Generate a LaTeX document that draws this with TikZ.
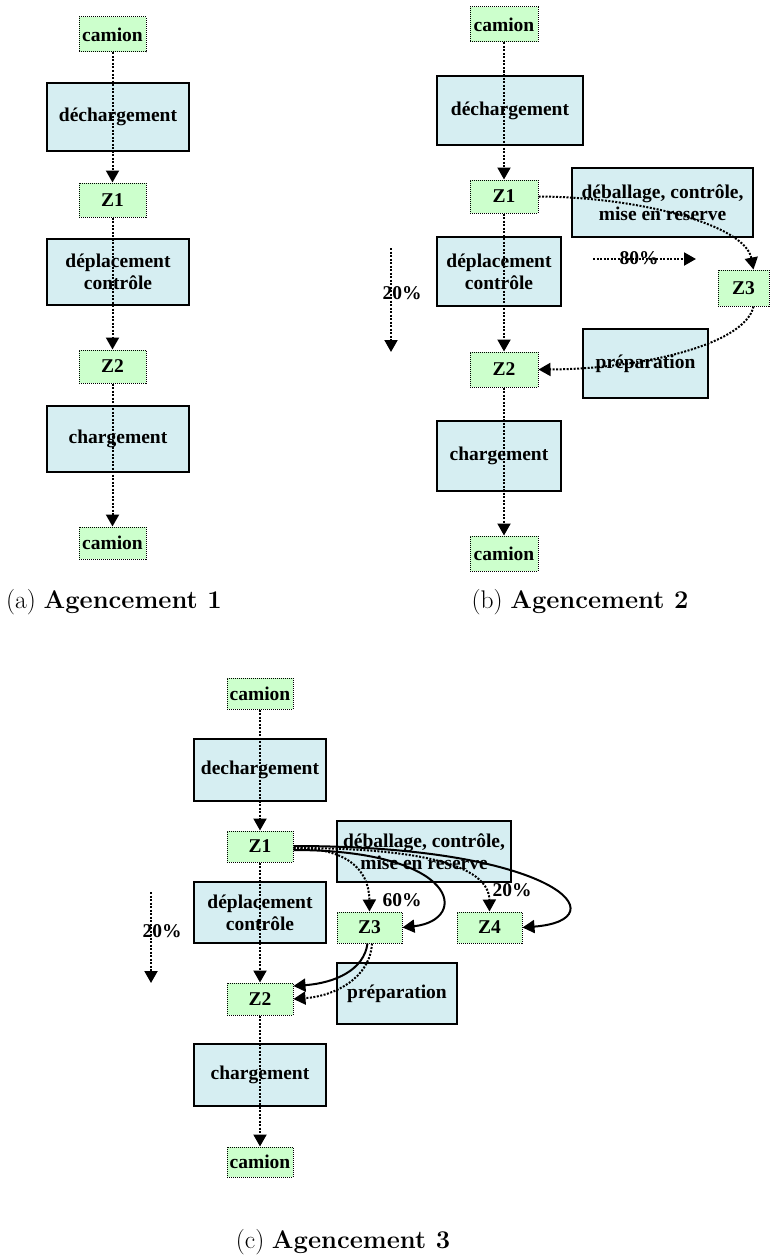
\documentclass[tikz,border=0pt]{standalone}
\usepackage{fontspec}
\newfontfamily\tnr{Liberation Serif}
\usetikzlibrary{arrows.meta,calc}
\definecolor{boxblue}{RGB}{214,238,242}
\definecolor{zonegreen}{RGB}{204,255,204}
\tikzset{
  proc/.style={draw=black, line width=2pt, fill=boxblue, align=center, inner sep=0pt,
    font=\tnr\bfseries\fontsize{19.5}{22}\selectfont},
  zone/.style={draw=black, line width=1pt, dash pattern=on 1pt off 1pt, fill=zonegreen,
    inner sep=0pt, font=\tnr\bfseries\fontsize{19.5}{22}\selectfont},
  pct/.style={inner sep=0pt, font=\tnr\bfseries\fontsize{19.5}{22}\selectfont},
  flow/.style={line width=2pt, dash pattern=on 2pt off 1.5pt,
    -{Triangle[length=12pt,width=13pt]}},
  sflow/.style={line width=2pt, -{Triangle[length=12pt,width=13pt]}},
  subcap/.style={inner sep=0pt, font=\fontsize{25.5}{30}\selectfont}
}
\begin{document}
\begin{tikzpicture}[x=1pt,y=-1pt]
\useasboundingbox (0,0) rectangle (777,1255);

% ---------- (a) ----------
\node[zone, minimum width=67pt, minimum height=35pt] (camA1) at (112.5,34.5) {camion};
\node[proc, minimum width=142pt, minimum height=68pt] (decA) at (118,117) {déchargement};
\node[zone, minimum width=67pt, minimum height=34pt] (Z1A) at (112.5,200) {Z1};
\node[proc, minimum width=142pt, minimum height=66pt] (depA) at (118,272) {déplacement\\contrôle};
\node[zone, minimum width=67pt, minimum height=33pt] (Z2A) at (112.5,366.5) {Z2};
\node[proc, minimum width=142pt, minimum height=66pt] (chA) at (118,439) {chargement};
\node[zone, minimum width=67pt, minimum height=32pt] (camA2) at (112.5,543) {camion};
\draw[flow] (camA1) -- (Z1A);
\draw[flow] (Z1A) -- (Z2A);
\draw[flow] (Z2A) -- (camA2);
\node[subcap] (capA) at (114,602) {(a) \textbf{Agencement 1}};

% ---------- (b) ----------
\node[zone, minimum width=68pt, minimum height=35pt] (camB1) at (504,24.5) {camion};
\node[proc, minimum width=146pt, minimum height=69pt] (decB) at (510,110.5) {déchargement};
\node[zone, minimum width=68pt, minimum height=33pt] (Z1B) at (504,196.5) {Z1};
\node[proc, minimum width=181pt, minimum height=69pt] (debB) at (662.5,202.5) {déballage, contrôle,\\mise en reserve};
\node[proc, minimum width=124pt, minimum height=69pt] (depB) at (499,271.5) {déplacement\\contrôle};
\node[zone, minimum width=51pt, minimum height=36pt] (Z3B) at (743.5,288) {Z3};
\node[proc, minimum width=125pt, minimum height=69pt] (prepB) at (645.5,363.5) {préparation};
\node[zone, minimum width=68pt, minimum height=35pt] (Z2B) at (504,369.5) {Z2};
\node[proc, minimum width=124pt, minimum height=70pt] (chB) at (499,456) {chargement};
\node[zone, minimum width=68pt, minimum height=35pt] (camB2) at (504,553.5) {camion};
\draw[flow] (camB1) -- (Z1B);
\draw[flow] (Z1B) -- (Z2B);
\draw[flow] (Z2B) -- (camB2);
\draw[flow] (Z1B.east) .. controls (640,197) and (745,225) .. ($(Z3B.north)+(10,0)$);
\draw[flow] ($(Z3B.south)+(10,0)$) .. controls (745,345) and (640,369) .. (Z2B.east);
\node[pct] (p20B) at (402,293) {20\%};
\coordinate (b20s) at (391,248);
\coordinate (b20e) at (391,352);
\draw[flow] (b20s) -- (b20e);
\node[pct] (p80B) at (639,258) {80\%};
\coordinate (b80s) at (593,259);
\coordinate (b80e) at (696,259);
\draw[flow] (b80s) -- (b80e);
\node[subcap] (capB) at (580,602) {(b) \textbf{Agencement 2}};

% ---------- (c) ----------
\node[zone, minimum width=66pt, minimum height=31pt] (camC1) at (260,693.5) {camion};
\node[proc, minimum width=132pt, minimum height=62pt] (decC) at (260,770) {dechargement};
\node[zone, minimum width=66pt, minimum height=31pt] (Z1C) at (260,846.5) {Z1};
\node[proc, minimum width=174pt, minimum height=61pt] (debC) at (424,851.5) {déballage, contrôle,\\mise en reserve};
\node[proc, minimum width=132pt, minimum height=61pt] (depC) at (260,912.5) {déplacement\\contrôle};
\node[zone, minimum width=65pt, minimum height=31pt] (Z3C) at (369.5,927.5) {Z3};
\node[zone, minimum width=65pt, minimum height=31pt] (Z4C) at (489.5,927.5) {Z4};
\node[proc, minimum width=120pt, minimum height=61pt] (prepC) at (397,993.5) {préparation};
\node[zone, minimum width=66pt, minimum height=32pt] (Z2C) at (260,999) {Z2};
\node[proc, minimum width=132pt, minimum height=62pt] (chC) at (260,1075) {chargement};
\node[zone, minimum width=66pt, minimum height=30pt] (camC2) at (260,1162) {camion};
\draw[flow] (camC1) -- (Z1C);
\draw[flow] (Z1C) -- (Z2C);
\draw[flow] (Z2C) -- (camC2);
\draw[flow] ($(Z1C.east)+(0,1.5)$) .. controls (345,848) and (369,868) .. (Z3C.north);
\draw[flow] ($(Z1C.east)+(0,1.5)$) .. controls (420,848) and (489,865) .. (Z4C.north);
\draw[sflow] ($(Z1C.east)+(0,3.5)$) .. controls (460,850) and (470,920) .. (Z3C.east);
\draw[sflow] ($(Z1C.east)+(0,-0.5)$) .. controls (560,846) and (620,920) .. (Z4C.east);
\draw[sflow] ($(Z3C.south)+(-2,0)$) .. controls (364,970) and (335,983) .. ($(Z2C.east)+(0,-13)$);
\draw[flow] ($(Z3C.south)+(2.5,0)$) .. controls (370,978) and (335,996) .. (Z2C.east);
\node[pct] (p60C) at (402,900) {60\%};
\node[pct] (p20C4) at (512,890) {20\%};
\node[pct] (p20C) at (162,931) {20\%};
\coordinate (c20s) at (151,892);
\coordinate (c20e) at (151,983);
\draw[flow] (c20s) -- (c20e);
\node[subcap] (capC) at (343,1242) {(c) \textbf{Agencement 3}};
\end{tikzpicture}
\end{document}
